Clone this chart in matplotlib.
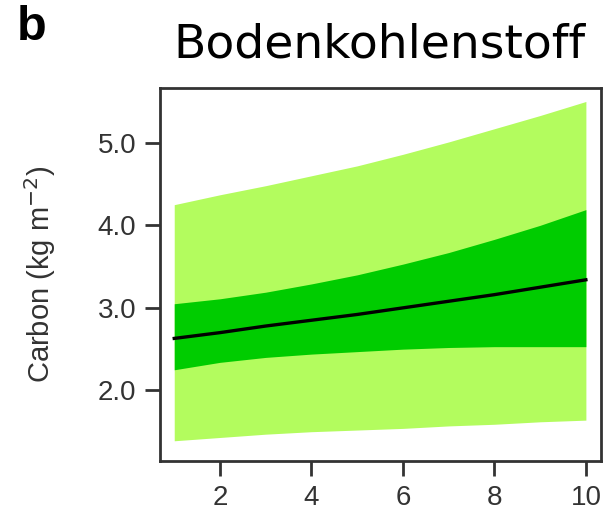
import numpy as np
import matplotlib
matplotlib.use('Agg')
from matplotlib import pyplot as plt

# values
x = [1, 2, 3, 4, 5, 6, 7, 8, 9, 10]
mean = [2.63, 2.70, 2.78, 2.85, 2.92, 3.00, 3.08, 3.16, 3.25, 3.34]
inner_lo = [2.25, 2.34, 2.40, 2.44, 2.47, 2.50, 2.52, 2.53, 2.53, 2.53]
inner_hi = [3.05, 3.11, 3.19, 3.29, 3.40, 3.53, 3.67, 3.83, 4.00, 4.19]
outer_lo = [1.39, 1.43, 1.47, 1.50, 1.52, 1.54, 1.57, 1.59, 1.62, 1.64]
outer_hi = [4.25, 4.37, 4.48, 4.60, 4.72, 4.86, 5.01, 5.17, 5.33, 5.50]

xticks = [2, 4, 6, 8, 10]
yticks = [2.0, 3.0, 4.0, 5.0]

plt.rcParams['font.family'] = ['Liberation Sans', 'DejaVu Sans']

fig = plt.figure(figsize=(6.04, 5.12), dpi=100)
ax = fig.add_axes([0.265, 0.0996, 0.73, 0.728])

ax.fill_between(x, outer_lo, outer_hi, color='#b3fc5e', linewidth=0)
ax.fill_between(x, inner_lo, inner_hi, color='#00cc00', linewidth=0)
ax.plot(x, mean, color='black', linewidth=2.4)

ax.set_xlim(0.69, 10.33)
ax.set_ylim(1.145, 5.66)
ax.set_xticks(xticks)
ax.set_yticks(yticks)
ax.set_yticklabels(['%.1f' % v for v in yticks])

for s in ax.spines.values():
    s.set_linewidth(2)
    s.set_color('#333333')
ax.tick_params(length=11, width=2, color='#333333', labelcolor='#333333', labelsize=20, pad=6)

fig.text(40 / 604, 1 - 274 / 512, 'Carbon (kg m$^{-2}$)', fontsize=21, color='#333333',
         rotation=90, ha='center', va='center')
fig.text(0.628, 1 - 58 / 512, 'Bodenkohlenstoff', fontsize=34, family='DejaVu Sans',
         ha='center', va='baseline')
fig.text(32 / 604, 1 - 28 / 512, 'b', fontsize=35, weight='bold', ha='center', va='center')

fig.savefig('out.png', dpi=100)
